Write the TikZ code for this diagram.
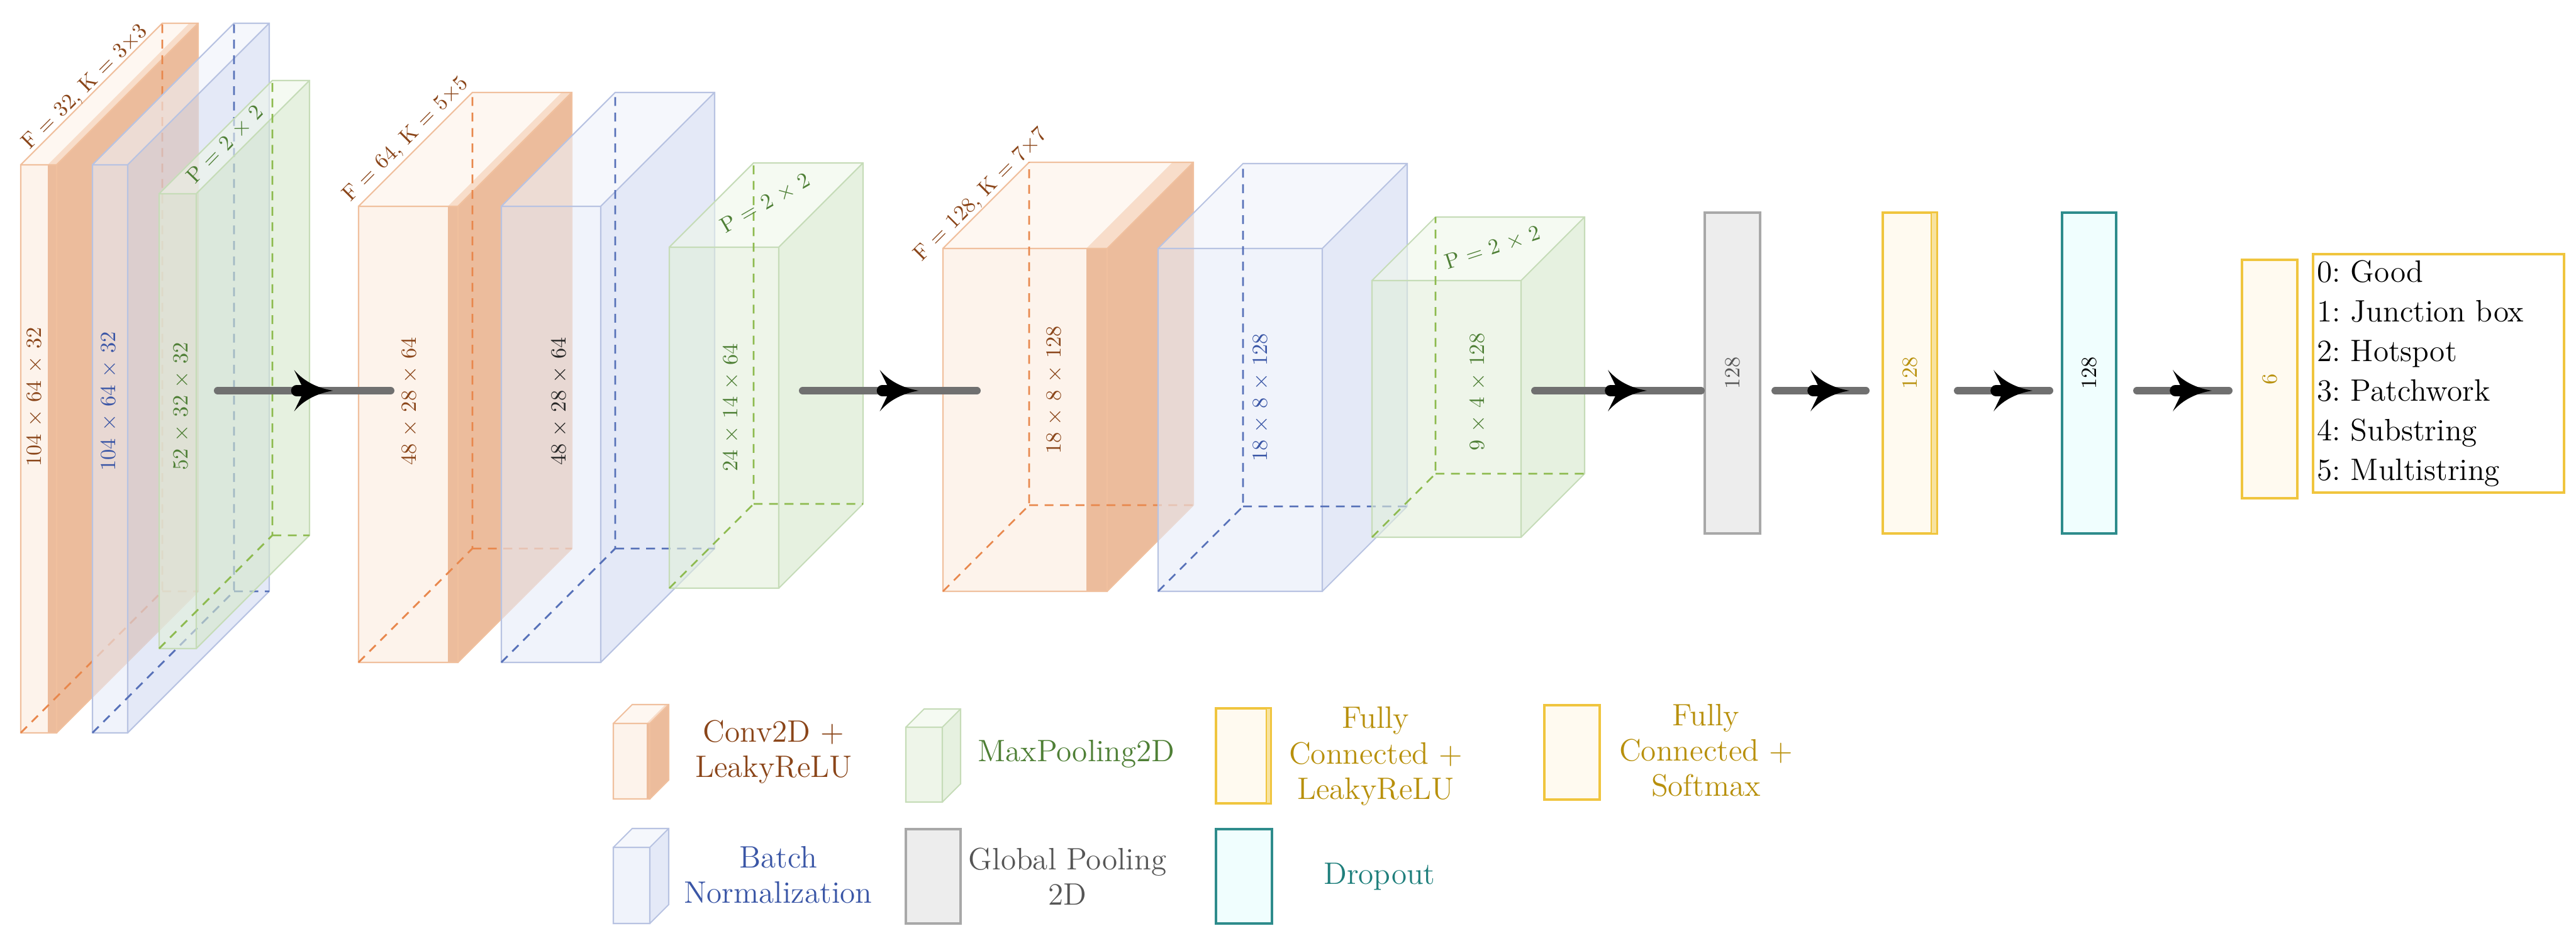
\documentclass[tikz,border=0pt]{standalone}
\usepackage{tikz}
\usetikzlibrary{arrows.meta,decorations.markings,calc}
\definecolor{cnvLight}{HTML}{FCEBDD}
\definecolor{cnvBand}{HTML}{E08F5A}
\definecolor{cnvBandTop}{HTML}{F3C6A6}
\definecolor{cnvTop}{HTML}{FDF2E8}
\definecolor{cnvEdge}{HTML}{F0C09E}
\definecolor{cnvDash}{HTML}{E8874C}
\definecolor{cnvText}{HTML}{8A4519}
\definecolor{bnLight}{HTML}{E6EBF8}
\definecolor{bnSide}{HTML}{D2DBF1}
\definecolor{bnTop}{HTML}{EEF1FA}
\definecolor{bnEdge}{HTML}{B8C3E2}
\definecolor{bnDash}{HTML}{5670B8}
\definecolor{bnText}{HTML}{3A56A6}
\definecolor{plLight}{HTML}{E2EFDA}
\definecolor{plSide}{HTML}{D5E8CB}
\definecolor{plTop}{HTML}{EEF6EA}
\definecolor{plEdge}{HTML}{C6DCB8}
\definecolor{plDash}{HTML}{8DBA4E}
\definecolor{plText}{HTML}{4E7F35}
\definecolor{gapFill}{HTML}{EDEDED}
\definecolor{gapDraw}{HTML}{A8A8A8}
\definecolor{gapText}{HTML}{555555}
\definecolor{fcFill}{HTML}{FFFAF0}
\definecolor{fcBand}{HTML}{F8E3A0}
\definecolor{fcDraw}{HTML}{F0C53E}
\definecolor{fcText}{HTML}{B8900C}
\definecolor{dropFill}{HTML}{F0FEFE}
\definecolor{dropDraw}{HTML}{2E8C8C}
\definecolor{dropText}{HTML}{1F7F7C}
\definecolor{connGray}{HTML}{707070}
\tikzset{
  conv face/.style={fill=cnvLight, fill opacity=0.6},
  conv band/.style={fill=cnvBand, fill opacity=0.6},
  conv side/.style={fill=cnvBand, fill opacity=0.6},
  conv top/.style={fill=cnvTop, fill opacity=0.6},
  conv bandtop/.style={fill=cnvBandTop, fill opacity=0.6},
  conv edge/.style={draw=cnvEdge, line width=0.6pt},
  conv hidden/.style={draw=cnvDash, line width=0.8pt, dash pattern=on 4pt off 3pt},
  bn face/.style={fill=bnLight, fill opacity=0.6},
  bn band/.style={fill=bnLight, fill opacity=0.6},
  bn side/.style={fill=bnSide, fill opacity=0.6},
  bn top/.style={fill=bnTop, fill opacity=0.6},
  bn bandtop/.style={fill=bnTop, fill opacity=0.6},
  bn edge/.style={draw=bnEdge, line width=0.6pt},
  bn hidden/.style={draw=bnDash, line width=0.8pt, dash pattern=on 4pt off 3pt},
  pool face/.style={fill=plLight, fill opacity=0.6},
  pool band/.style={fill=plLight, fill opacity=0.6},
  pool side/.style={fill=plSide, fill opacity=0.6},
  pool top/.style={fill=plTop, fill opacity=0.6},
  pool bandtop/.style={fill=plTop, fill opacity=0.6},
  pool edge/.style={draw=plEdge, line width=0.6pt},
  pool hidden/.style={draw=plDash, line width=0.8pt, dash pattern=on 4pt off 3pt},
  dimlabel/.style={font=\fontsize{9.8}{11}\selectfont, inner sep=1pt},
  toplabel/.style={font=\fontsize{9.8}{11}\selectfont, inner sep=1pt},
  legendtext/.style={font=\fontsize{14}{16}\selectfont, align=center},
  gapbox/.style={draw=gapDraw, fill=gapFill, line width=1pt, inner sep=0pt, outer sep=0pt},
  fcbox/.style={draw=fcDraw, fill=fcFill, line width=1.2pt, inner sep=0pt, outer sep=0pt},
  dropbox/.style={draw=dropDraw, fill=dropFill, line width=1pt, inner sep=0pt, outer sep=0pt},
  classbox/.style={draw=fcDraw, fill=white, line width=1.2pt, outer sep=0pt, inner sep=0.06cm,
    text width=3.87cm, minimum height=3.79cm, align=left, font=\fontsize{14}{17.9}\selectfont\frenchspacing},
  conn/.style={draw=connGray, line width=3.4pt, line cap=round, postaction={decorate},
    decoration={markings, mark=at position 0.5 with {
      \draw[black, line width=5pt, line cap=round] (-0.12,0) -- (0.05,0);
      \fill[black] (0.46,0) .. controls (0.22,0.04) and (0,0.14) .. (-0.16,0.33) -- (0.0,0)
        -- (-0.16,-0.33) .. controls (0,-0.14) and (0.22,-0.04) .. (0.46,0) -- cycle;}}}
}
% box without hidden edges: kind, x, y, width, band, height, depth
\newcommand{\solidbox}[7]{%
  \begin{scope}[shift={(#2,#3)}]
    \fill[#1 face] (0,0) rectangle ({#4-#5},#6);
    \fill[#1 band] ({#4-#5},0) rectangle (#4,#6);
    \fill[#1 side] (#4,0) -- ++(#7,#7) -- ++(0,#6) -- (#4,#6) -- cycle;
    \fill[#1 top] (0,#6) -- ({#4-#5},#6) -- ++(#7,#7) -- (#7,{#6+#7}) -- cycle;
    \fill[#1 bandtop] ({#4-#5},#6) -- (#4,#6) -- ++(#7,#7) -- ++(-#5,0) -- cycle;
    \draw[#1 edge] (0,0) rectangle (#4,#6)
      (#4,0) -- ++(#7,#7) -- ++(0,#6) -- (#7,{#6+#7}) -- (0,#6)
      (#4,#6) -- ++(#7,#7);
  \end{scope}}
\newcommand{\layerbox}[7]{%
  \solidbox{#1}{#2}{#3}{#4}{#5}{#6}{#7}
  \draw[#1 hidden, shift={(#2,#3)}] (0,0) -- (#7,#7) -- (#7,{#6+#7}) (#7,#7) -- ({#4+#7},#7);}

\begin{document}
\begin{tikzpicture}
\useasboundingbox (0,0) rectangle (40.95,14.99);
\coordinate (rail) at (0,8.78);

% block 1
\layerbox{conv}{0.33}{3.34}{0.57}{0.14}{9.03}{2.25}
\node[dimlabel, text=cnvText, rotate=90] (c1dim) at (0.55,8.68) {104 $\times$ 64 $\times$ 32};
\node[toplabel, text=cnvText, rotate=45] (c1top) at (1.36,13.60) {F = 32, K = 3$\times$3};
\layerbox{bn}{1.47}{3.34}{0.56}{0}{9.03}{2.25}
\node[dimlabel, text=bnText, rotate=90] (b1dim) at (1.73,8.61) {104 $\times$ 64 $\times$ 32};
\layerbox{pool}{2.53}{4.68}{0.59}{0}{7.23}{1.80}
\node[dimlabel, text=plText, rotate=90] (p1dim) at (2.88,8.53) {52 $\times$ 32 $\times$ 32};
\node[toplabel, text=plText, rotate=46] (p1top) at (3.58,12.69) {P = 2 $\times$ 2};

% block 2
\layerbox{conv}{5.70}{4.46}{1.58}{0.16}{7.25}{1.81}
\node[dimlabel, text=cnvText, rotate=90] (c2dim) at (6.51,8.61) {48 $\times$ 28 $\times$ 64};
\node[toplabel, text=cnvText, rotate=45] (c2top) at (6.46,12.77) {F = 64, K = 5$\times$5};
\layerbox{bn}{7.97}{4.46}{1.58}{0}{7.25}{1.81}
\node[dimlabel, text=black!85, rotate=90] (b2dim) at (8.89,8.61) {48 $\times$ 28 $\times$ 64};
\layerbox{pool}{10.64}{5.64}{1.74}{0}{5.42}{1.34}
\node[dimlabel, text=plText, rotate=90] (p2dim) at (11.62,8.51) {24 $\times$ 14 $\times$ 64};
\node[toplabel, text=plText, rotate=30] (p2top) at (12.17,11.76) {P = 2 $\times$ 2};

% block 3
\layerbox{conv}{14.99}{5.59}{2.61}{0.33}{5.45}{1.37}
\node[dimlabel, text=cnvText, rotate=90] (c3dim) at (16.76,8.79) {18 $\times$ 8 $\times$ 128};
\node[toplabel, text=cnvText, rotate=45] (c3top) at (15.60,11.89) {F = 128, K = 7$\times$7};
\layerbox{bn}{18.41}{5.59}{2.61}{0}{5.45}{1.35}
\node[dimlabel, text=bnText, rotate=90] (b3dim) at (20.04,8.67) {18 $\times$ 8 $\times$ 128};
\layerbox{pool}{21.81}{6.45}{2.37}{0}{4.08}{1.01}
\node[dimlabel, text=plText, rotate=90] (p3dim) at (23.49,8.76) {9 $\times$ 4 $\times$ 128};
\node[toplabel, text=plText, rotate=18] (p3top) at (23.73,11.05) {P = 2 $\times$ 2};

% dense part
\node[gapbox, minimum width=0.88cm, minimum height=5.10cm] (gap) at (27.54,9.06) {};
\node[dimlabel, text=gapText, rotate=90] (gapdim) at (gap.center) {128};
\node[fcbox, minimum width=0.86cm, minimum height=5.10cm] (fc1) at (30.36,9.06) {};
\draw[fcDraw, fill=fcBand, line width=0.8pt] ([xshift=-0.09cm]fc1.north east) rectangle (fc1.south east);
\node[dimlabel, text=fcText, rotate=90] (fc1dim) at (fc1.center) {128};
\node[dropbox, minimum width=0.86cm, minimum height=5.10cm] (drop) at (33.21,9.06) {};
\node[dimlabel, text=black, rotate=90] (dropdim) at (drop.center) {128};
\node[fcbox, minimum width=0.88cm, minimum height=3.79cm] (fc2) at (36.08,8.965) {};
\node[dimlabel, text=fcText, rotate=90] (fc2dim) at (fc2.center) {6};
\node[classbox] (classes) at (38.765,9.055) {0: Good\\1: Junction box\\2: Hotspot\\3: Patchwork\\4: Substring\\5: Multistring};

% connections
\coordinate (p1out) at (3.46,8.78);
\coordinate (c2in) at (6.21,8.78);
\coordinate (p2out) at (12.76,8.78);
\coordinate (c3in) at (15.53,8.78);
\coordinate (p3out) at (24.40,8.78);
\draw[conn] (p1out) -- (c2in);
\draw[conn] (p2out) -- (c3in);
\draw[conn] (p3out) -- ($(gap.west |- rail)+(-0.06,0)$);
\draw[conn] ($(gap.east |- rail)+(0.24,0)$) -- ($(fc1.west |- rail)+(-0.27,0)$);
\draw[conn] ($(fc1.east |- rail)+(0.33,0)$) -- ($(drop.west |- rail)+(-0.20,0)$);
\draw[conn] ($(drop.east |- rail)+(0.33,0)$) -- ($(fc2.west |- rail)+(-0.21,0)$);

% legend
\solidbox{conv}{9.75}{2.29}{0.58}{0.05}{1.20}{0.30}
\node[legendtext, text=cnvText] (lgconv) at (12.30,3.04) {Conv2D +\\LeakyReLU};
\solidbox{bn}{9.75}{0.31}{0.58}{0}{1.21}{0.30}
\node[legendtext, text=bnText] (lgbn) at (12.37,1.08) {Batch\\Normalization};
\solidbox{pool}{14.40}{2.24}{0.58}{0}{1.19}{0.29}
\node[legendtext, text=plText, anchor=west] (lgpool) at (15.42,3.01) {MaxPooling2D};
\node[gapbox, minimum width=0.87cm, minimum height=1.50cm] (lggapbox) at (14.835,1.06) {};
\node[legendtext, text=gapText] (lggap) at (16.97,1.06) {Global Pooling\\2D};
\node[fcbox, minimum width=0.87cm, minimum height=1.51cm] (lgfcbox) at (19.765,2.975) {};
\draw[fcDraw, fill=fcBand, line width=0.8pt] ([xshift=-0.07cm]lgfcbox.north east) rectangle (lgfcbox.south east);
\node[legendtext, text=fcText] (lgfc) at (21.87,2.97) {Fully\\Connected +\\LeakyReLU};
\node[dropbox, minimum width=0.89cm, minimum height=1.50cm] (lgdropbox) at (19.775,1.06) {};
\node[legendtext, text=dropText] (lgdrop) at (21.93,1.06) {Dropout};
\node[fcbox, minimum width=0.88cm, minimum height=1.50cm] (lgsoftbox) at (24.99,3.03) {};
\node[legendtext, text=fcText] (lgsoft) at (27.12,3.06) {Fully\\Connected +\\Softmax};
\end{tikzpicture}
\end{document}
